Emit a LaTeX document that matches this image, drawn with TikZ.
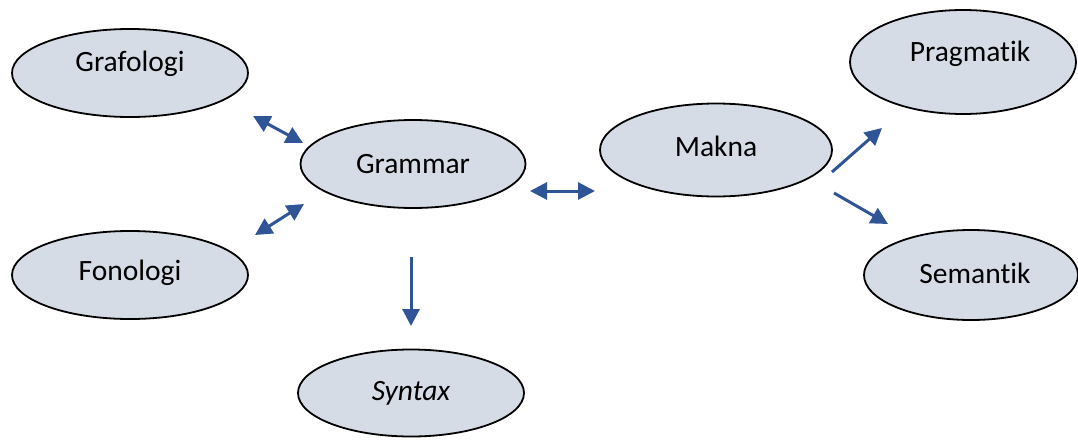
\documentclass[tikz,border=0pt]{standalone}
\usepackage{fontspec}
\setmainfont[Ligatures={NoCommon}]{Carlito}
\usetikzlibrary{shapes.geometric,arrows.meta}
\definecolor{efill}{HTML}{D6DCE5}
\definecolor{arr}{HTML}{2F5597}
\tikzset{
  oval/.style={ellipse, draw=black, line width=1.8pt, fill=efill, inner sep=0pt},
  lbl/.style={font=\fontsize{29.5}{32}\selectfont, inner sep=0pt, anchor=center},
  conn/.style={draw=arr, line width=3pt, -{Triangle[length=17pt,width=17pt]}},
  biconn/.style={draw=arr, line width=3pt, {Triangle[length=17pt,width=17pt]}-{Triangle[length=17pt,width=17pt]}},
}
\begin{document}
\begin{tikzpicture}[x=1pt,y=-1pt]
\useasboundingbox (0,0) rectangle (1078,439);
\node[oval, minimum width=236pt, minimum height=88pt] (graf) at (130,73) {};
\node[oval, minimum width=236pt, minimum height=88pt] (fono) at (130,275) {};
\node[oval, minimum width=225pt, minimum height=88pt] (gram) at (413,164) {};
\node[oval, minimum width=226pt, minimum height=87pt] (syn) at (411,393) {};
\node[oval, minimum width=232pt, minimum height=93pt] (mak) at (716,150) {};
\node[oval, minimum width=226pt, minimum height=104pt] (prag) at (963,62) {};
\node[oval, minimum width=214pt, minimum height=90pt] (sem) at (971,275) {};
\node[lbl] (graf-t) at (130,64) {Grafologi};
\node[lbl] (fono-t) at (130,273) {Fonologi};
\node[lbl] (gram-t) at (413,164) {Grammar};
\node[lbl] (syn-t) at (411,393) {\itshape Syntax};
\node[lbl] (mak-t) at (716,146) {Makna};
\node[lbl] (prag-t) at (970,54) {Pragmatik};
\node[lbl] (sem-t) at (975,273) {Semantik};
\coordinate (a1s) at (253,116);
\coordinate (a1e) at (303,143);
\coordinate (a2s) at (255,235);
\coordinate (a2e) at (304,204);
\coordinate (a3s) at (530,191);
\coordinate (a3e) at (595,191);
\coordinate (a4s) at (411,257);
\coordinate (a4e) at (411,326);
\coordinate (a5s) at (832,172);
\coordinate (a5e) at (882,128);
\coordinate (a6s) at (834,193);
\coordinate (a6e) at (888,224);
\draw[biconn] (a1s) -- (a1e);
\draw[biconn] (a2s) -- (a2e);
\draw[biconn] (a3s) -- (a3e);
\draw[conn] (a4s) -- (a4e);
\draw[conn] (a5s) -- (a5e);
\draw[conn] (a6s) -- (a6e);
\end{tikzpicture}
\end{document}
